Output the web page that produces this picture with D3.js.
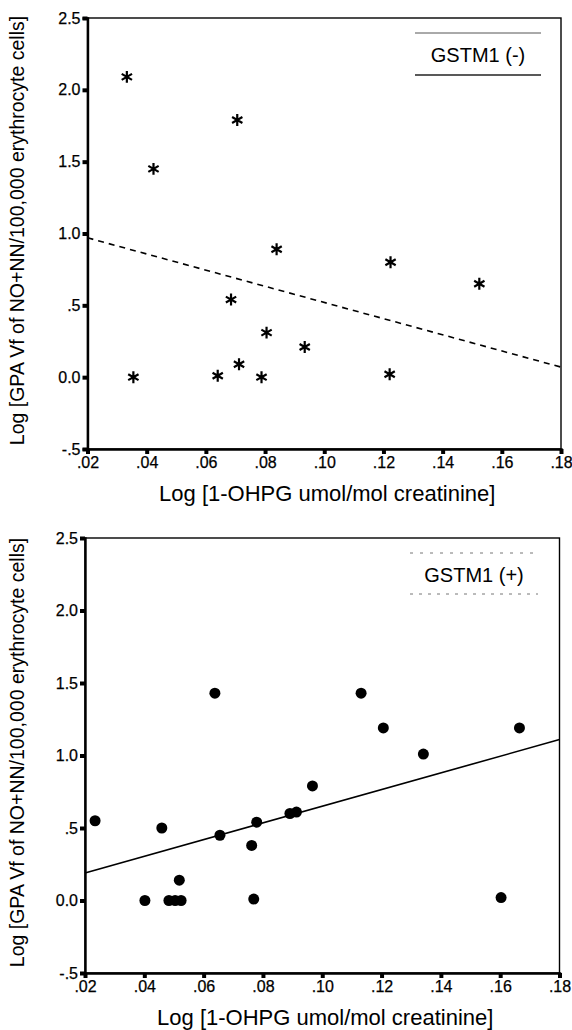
<!DOCTYPE html>
<html lang="en">
<head>
    <meta charset="UTF-8">
    <title>GSTM1 scatter</title>
    <script src="https://d3js.org/d3.v7.min.js"></script>
    <style>
        body { margin: 0; background: #fff; }
        svg { font-family: "Liberation Sans", Arial, sans-serif; display: block; }
        .tick text { fill: #000; font-size: 16px; stroke: #000; stroke-width: 0.25px; }
    </style>
</head>
<body>
<script>
// x ticks / y ticks, shared by both panels
const xTicks = [0.02, 0.04, 0.06, 0.08, 0.10, 0.12, 0.14, 0.16, 0.18];
const xTickLabels = [".02", ".04", ".06", ".08", ".10", ".12", ".14", ".16", ".18"];
const yTicks = [-0.5, 0, 0.5, 1.0, 1.5, 2.0, 2.5];
const yTickLabels = ["-.5", "0.0", ".5", "1.0", "1.5", "2.0", "2.5"];

const xTitle = "Log [1-OHPG umol/mol creatinine]";
const yTitle = "Log [GPA Vf of NO+NN/100,000 erythrocyte cells]";

// GSTM1 (-) subjects
const minusX = [0.0333, 0.0706, 0.0423, 0.0355, 0.0685, 0.0805, 0.0712, 0.0640, 0.0788, 0.0839, 0.1224, 0.1524, 0.0934, 0.1221];
const minusY = [2.09, 1.79, 1.45, 0.00, 0.54, 0.31, 0.09, 0.01, 0.00, 0.89, 0.80, 0.65, 0.21, 0.02];

// GSTM1 (+) subjects
const plusX = [0.0638, 0.1131, 0.1206, 0.1665, 0.1341, 0.0234, 0.0459, 0.0655, 0.0762, 0.0779, 0.0891, 0.0913, 0.0967, 0.1603, 0.0518, 0.0402, 0.0483, 0.0504, 0.0524, 0.0769];
const plusY = [1.43, 1.43, 1.19, 1.19, 1.01, 0.55, 0.50, 0.45, 0.38, 0.54, 0.60, 0.61, 0.79, 0.02, 0.14, 0.00, 0.00, 0.00, 0.00, 0.01];

// regression lines, read at the x-axis ends
const fitX = [0.02, 0.18];
const minusFitY = [0.97, 0.07];
const plusFitY = [0.19, 1.11];

const W = 572, H = 1030;
const svg = d3.select("body").append("svg").attr("width", W).attr("height", H);

function panel(opt) {
    const x = d3.scaleLinear().domain([0.02, 0.18]).range([opt.left, opt.right]);
    const y = d3.scaleLinear().domain([-0.5, 2.5]).range([opt.bottom, opt.top]);
    const g = svg.append("g");

    // frame (top / right lighter)
    g.append("rect")
        .attr("x", opt.left).attr("y", opt.top)
        .attr("width", opt.right - opt.left).attr("height", opt.bottom - opt.top)
        .attr("fill", "none").attr("stroke", "#000").attr("stroke-width", 1.4);

    const ax = g.append("g")
        .attr("transform", `translate(0,${opt.bottom})`)
        .call(d3.axisBottom(x).tickValues(xTicks).tickFormat((d, i) => xTickLabels[i]).tickSize(5).tickPadding(3));
    const ay = g.append("g")
        .attr("transform", `translate(${opt.left},0)`)
        .call(d3.axisLeft(y).tickValues(yTicks).tickFormat((d, i) => yTickLabels[i]).tickSize(5).tickPadding(2));

    [ax, ay].forEach(a => {
        a.attr("font-size", 16).attr("font-family", "Liberation Sans, Arial, sans-serif");
        a.select(".domain").attr("stroke", "#000").attr("stroke-width", 2.4);
        a.selectAll(".tick line").attr("stroke", "#000").attr("stroke-width", 4);
    });

    // axis titles
    g.append("text")
        .attr("x", (opt.left + opt.right) / 2 + 3).attr("y", opt.bottom + 52)
        .attr("text-anchor", "middle").attr("font-size", 22)
        .text(xTitle);
    g.append("text")
        .attr("transform", `translate(24,${(opt.top + opt.bottom) / 2 - 3}) rotate(-90)`)
        .attr("text-anchor", "middle").attr("font-size", 19.5)
        .text(yTitle);

    // legend label between two rules
    const lg = opt.legend;
    g.append("line")
        .attr("x1", lg.x0).attr("x2", lg.x1).attr("y1", lg.y0).attr("y2", lg.y0)
        .attr("stroke", lg.dashed ? "#777" : "#555").attr("stroke-width", 1)
        .attr("stroke-dasharray", lg.dashed ? "3,7" : null);
    g.append("line")
        .attr("x1", lg.x0).attr("x2", lg.x1).attr("y1", lg.y1).attr("y2", lg.y1)
        .attr("stroke", lg.dashed ? "#777" : "#222").attr("stroke-width", lg.dashed ? 1 : 1.4)
        .attr("stroke-dasharray", lg.dashed ? "3,6" : null);
    g.append("text")
        .attr("x", (lg.x0 + lg.x1) / 2).attr("y", lg.baseline)
        .attr("text-anchor", "middle").attr("font-size", 20)
        .text(lg.label);

    // fit line
    const line = d3.line().x(d => x(d[0])).y(d => y(d[1]));
    g.append("path")
        .datum(fitX.map((v, i) => [v, opt.fitY[i]]))
        .attr("d", line)
        .attr("fill", "none").attr("stroke", "#000")
        .attr("stroke-width", 1.6)
        .attr("stroke-dasharray", opt.dashed ? "6,5" : null);

    // points
    const pts = opt.xs.map((v, i) => [v, opt.ys[i]]);
    if (opt.marker === "asterisk") {
        g.append("g").selectAll("path").data(pts).join("path")
            .attr("transform", d => `translate(${x(d[0])},${y(d[1])})`)
            .attr("d", d3.symbol(d3.symbolAsterisk, 100))
            .attr("fill", "none").attr("stroke", "#000").attr("stroke-width", 2.2);
    } else {
        g.append("g").selectAll("circle").data(pts).join("circle")
            .attr("cx", d => x(d[0])).attr("cy", d => y(d[1]))
            .attr("r", 5.5).attr("fill", "#000");
    }
}

panel({
    left: 87.5, right: 561, top: 18, bottom: 449,
    xs: minusX, ys: minusY, marker: "asterisk", fitY: minusFitY, dashed: true,
    legend: { x0: 415, x1: 541, y0: 33, y1: 75, baseline: 62, label: "GSTM1 (-)", dashed: false }
});

panel({
    left: 85, right: 559.5, top: 538, bottom: 973,
    xs: plusX, ys: plusY, marker: "circle", fitY: plusFitY, dashed: false,
    legend: { x0: 410, x1: 538, y0: 553, y1: 594, baseline: 582, label: "GSTM1 (+)", dashed: true }
});
</script>
</body>
</html>
